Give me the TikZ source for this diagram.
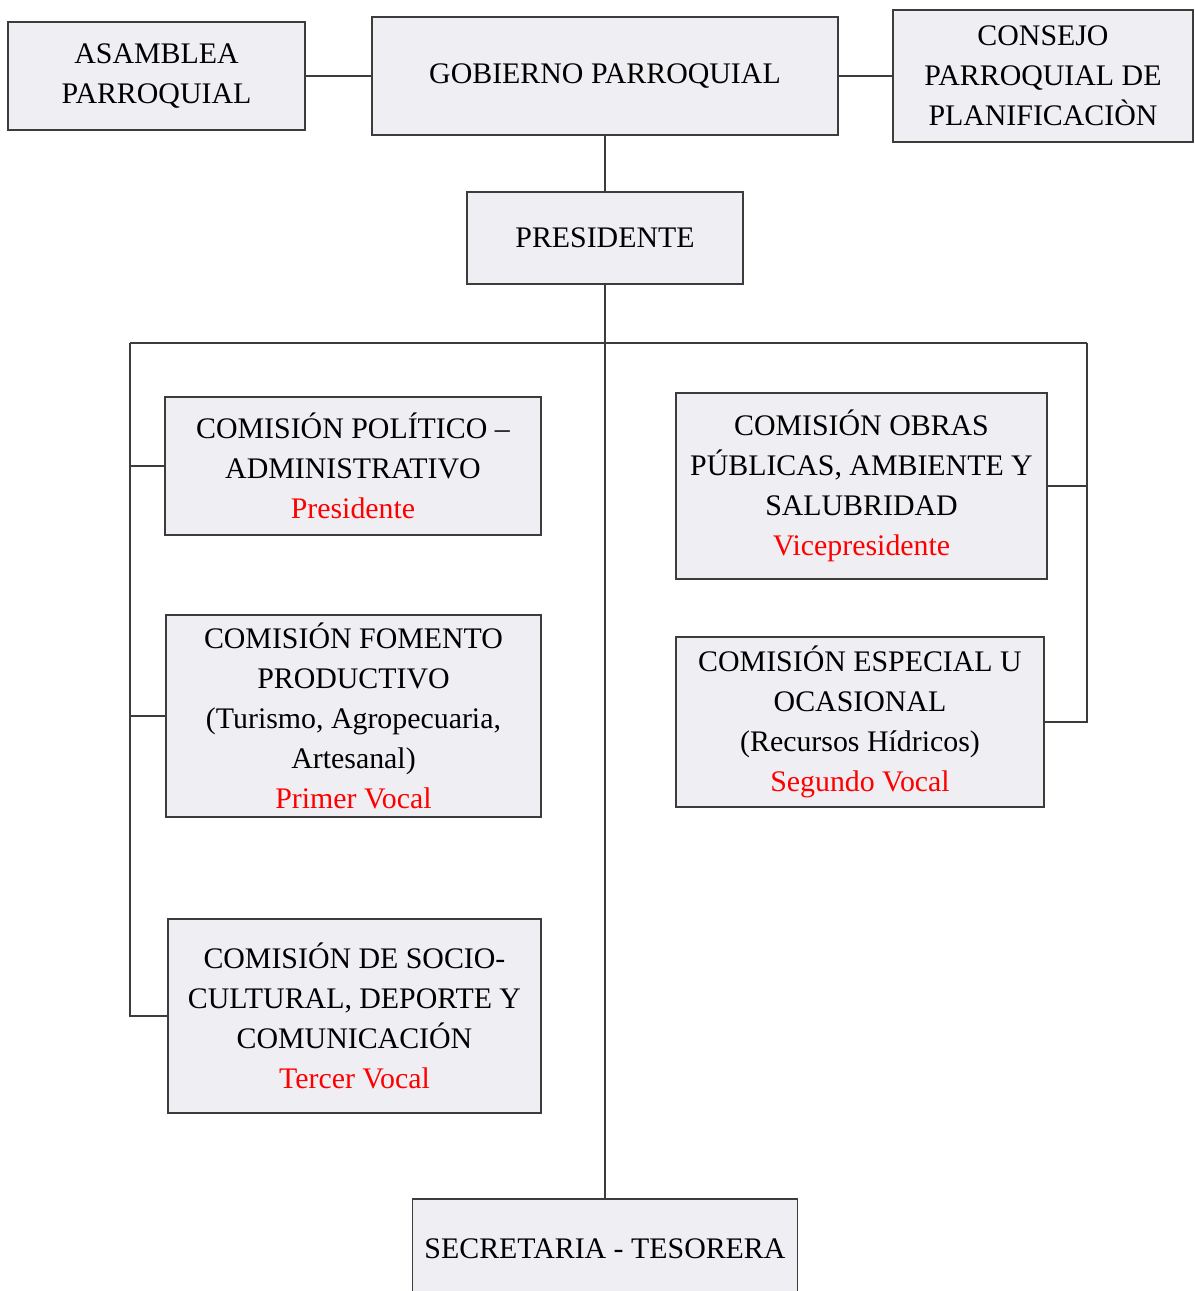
\documentclass[tikz,border=0pt]{standalone}
\usepackage{fontspec}
\setmainfont{Liberation Serif}
\definecolor{cajagris}{HTML}{EFEEF3}
\definecolor{lineagris}{HTML}{3C3C3C}

\begin{document}
\begin{tikzpicture}[x=0.02cm,y=0.02cm,
  caja/.style={draw=lineagris,line width=0.8pt,fill=cajagris,align=center,inner sep=0pt,
    font=\fontsize{17}{22.8}\selectfont},
  enlace/.style={draw=lineagris,line width=0.8pt}]
\useasboundingbox (0,0) rectangle (1195,-1291);

\node[caja,minimum width=297*0.02cm,minimum height=108*0.02cm] (asamblea) at (156.5,-76) {ASAMBLEA\\PARROQUIAL};
\node[caja,minimum width=466*0.02cm,minimum height=118*0.02cm] (gobierno) at (605,-76) {GOBIERNO PARROQUIAL};
\node[caja,minimum width=300*0.02cm,minimum height=132*0.02cm] (consejo) at (1043,-76) {CONSEJO\\PARROQUIAL DE\\PLANIFICACIÒN};
\node[caja,minimum width=276*0.02cm,minimum height=92*0.02cm] (presidente) at (605,-238) {PRESIDENTE};

\node[caja,minimum width=376*0.02cm,minimum height=138*0.02cm] (politico) at (353,-466)
  {COMISIÓN POLÍTICO –\\ADMINISTRATIVO\\\textcolor{red}{Presidente}};
\node[caja,minimum width=375*0.02cm,minimum height=202*0.02cm] (fomento) at (353.5,-716)
  {COMISIÓN FOMENTO\\PRODUCTIVO\\(Turismo, Agropecuaria,\\Artesanal)\\\textcolor{red}{Primer Vocal}};
\node[caja,minimum width=373*0.02cm,minimum height=194*0.02cm] (socio) at (354.5,-1016)
  {COMISIÓN DE SOCIO-\\CULTURAL, DEPORTE Y\\COMUNICACIÓN\\\textcolor{red}{Tercer Vocal}};
\node[caja,minimum width=371*0.02cm,minimum height=186*0.02cm] (obras) at (861.5,-486)
  {COMISIÓN OBRAS\\PÚBLICAS, AMBIENTE Y\\SALUBRIDAD\\\textcolor{red}{Vicepresidente}};
\node[caja,minimum width=368*0.02cm,minimum height=170*0.02cm] (especial) at (860,-722)
  {COMISIÓN ESPECIAL U\\OCASIONAL\\(Recursos Hídricos)\\\textcolor{red}{Segundo Vocal}};
\node[caja,minimum width=385*0.02cm,minimum height=100*0.02cm] (secretaria) at (605,-1249) {SECRETARIA - TESORERA};

\coordinate (busizq) at (130,-343);
\coordinate (busder) at (1087,-343);

\draw[enlace] (asamblea.east) -- (gobierno.west);
\draw[enlace] (gobierno.east) -- (consejo.west);
\draw[enlace] (gobierno.south) -- (presidente.north);
\draw[enlace] (presidente.south) -- (secretaria.north);
\draw[enlace] (busizq) -- (busder);

\draw[enlace] (busizq) |- (socio.west);
\draw[enlace] (busizq |- politico.west) -- (politico.west);
\draw[enlace] (busizq |- fomento.west) -- (fomento.west);

\draw[enlace] (busder) |- (especial.east);
\draw[enlace] (busder |- obras.east) -- (obras.east);

\end{tikzpicture}
\end{document}
